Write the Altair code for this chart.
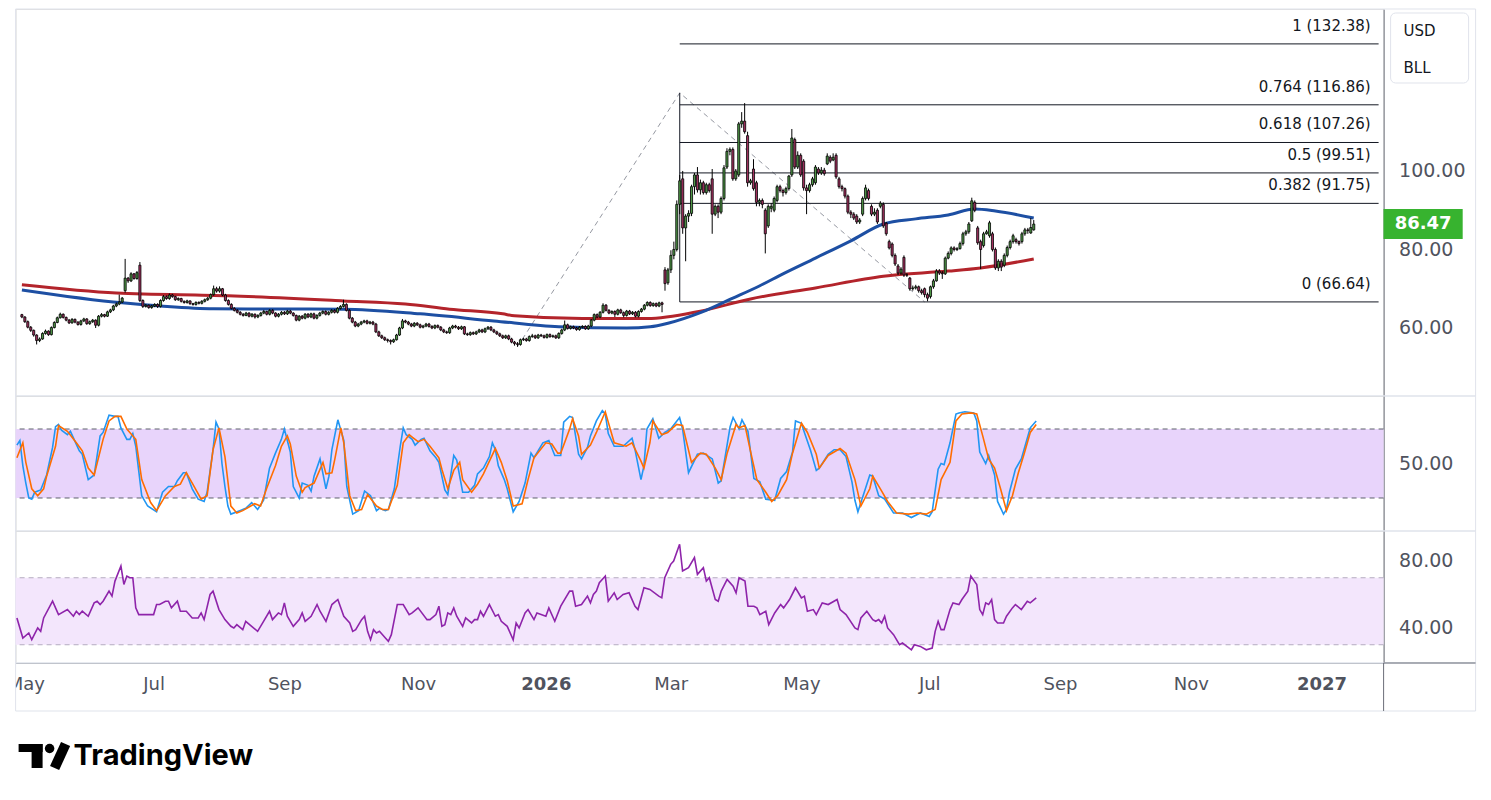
import json
import altair as alt
import pandas as pd
import numpy as np

# ---------------- data ----------------
START_DATE = "2025-04-28"   # first daily bar (bar index 0)

OPEN = [
    63.4, 62.8, 61.6, 60.2, 59.4, 58.2, 56.8, 57.2, 58.6, 59.2,
    58.3, 60.1, 61.4, 62.6, 63.5, 62.7, 62.0, 61.3, 62.2, 61.5,
    60.9, 61.8, 62.3, 61.1, 61.6, 62.0, 60.7, 63.0, 63.4, 63.0,
    64.1, 64.6, 65.6, 66.1, 66.6, 69.5, 72.7, 72.0, 73.8, 72.6,
    76.0, 67.0, 65.5, 65.8, 65.2, 65.6, 66.0, 65.5, 67.0, 68.0,
    67.5, 68.4, 68.0, 67.2, 67.5, 66.8, 66.5, 66.9, 66.2, 66.0,
    66.5, 66.3, 66.8, 67.2, 67.6, 68.5, 70.0, 69.4, 70.0, 68.4,
    67.0, 66.0, 65.0, 64.5, 64.0, 63.5, 63.2, 63.8, 63.0, 63.5,
    62.8, 63.2, 63.8, 64.2, 63.5, 64.5, 63.8, 63.0, 63.5, 64.0,
    63.6, 64.3, 63.8, 63.2, 62.0, 63.0, 62.5, 63.5, 62.8, 63.6,
    62.5, 63.2, 63.8, 64.2, 63.5, 64.0, 64.5, 64.0, 65.0, 65.5,
    66.0, 64.5, 62.5, 61.5, 60.5, 61.0, 61.5, 61.8, 61.2, 61.5,
    61.0, 59.0, 58.0, 57.5, 57.0, 56.8, 56.5, 57.0, 58.2, 60.0,
    61.8, 61.5, 61.0, 60.5, 61.2, 60.8, 60.2, 60.5, 61.0, 60.4,
    60.0, 60.6, 60.2, 59.5, 59.0, 58.8, 60.0, 60.5, 60.2, 59.8,
    60.3, 58.5, 58.3, 58.8, 58.5, 59.0, 59.5, 59.0, 59.8, 60.2,
    59.5, 59.0, 58.5, 58.0, 57.5, 58.0, 57.2, 56.4, 56.0, 55.8,
    57.0, 57.2, 56.8, 57.8, 58.0, 57.5, 58.2, 58.0, 57.6, 58.3,
    57.8, 58.0, 57.5, 58.6, 59.5, 60.8, 59.9, 60.3, 60.0, 59.6,
    60.2, 60.4, 59.8, 60.5, 62.0, 63.4, 62.8, 64.0, 65.8, 64.5,
    63.8, 64.2, 63.5, 64.6, 63.9, 63.2, 64.3, 63.6, 64.0, 63.0,
    64.2, 64.8, 65.8, 66.5, 65.7, 66.2, 65.6, 66.4, 74.8, 71.5,
    74.8, 78.5, 80.0, 91.5, 98.0, 85.5, 88.5, 89.2, 96.0, 99.0,
    95.2, 97.0, 94.5, 96.5, 98.0, 89.0, 91.0, 89.5, 93.0, 101.0,
    105.0, 105.5, 98.0, 99.0, 112.0, 112.7, 109.0, 97.0, 100.5, 97.0,
    92.0, 92.5, 90.0, 86.0, 90.5, 90.0, 92.5, 96.0, 95.0, 94.5,
    95.5, 99.0, 108.0, 101.0, 104.0, 102.5, 95.7, 95.0, 96.5, 97.0,
    100.5, 99.5, 100.2, 101.8, 103.5, 102.8, 104.0, 98.0, 96.0, 95.5,
    93.6, 89.5, 89.0, 88.5, 87.0, 89.0, 93.0, 95.0, 91.0, 89.0,
    90.0, 91.0, 91.5, 86.7, 82.0, 81.4, 78.5, 75.8, 74.0, 78.0,
    73.5, 72.7, 70.0, 70.2, 70.5, 69.5, 70.0, 68.5, 68.0, 70.5,
    72.0, 74.5, 74.0, 73.8, 77.8, 79.0, 80.4, 80.0, 80.2, 81.5,
    84.0, 84.5, 87.3, 92.0, 85.5, 82.0, 81.0, 84.0, 83.5, 84.0,
    80.0, 75.3, 77.0, 76.0, 78.5, 80.5, 82.0, 82.5, 82.0, 82.0,
    84.0, 85.0, 84.2, 85.0,
]
HIGH = [
    63.6, 63.0, 61.9, 60.5, 59.6, 58.4, 57.6, 58.9, 59.6, 59.4,
    60.4, 61.7, 62.9, 63.9, 63.7, 62.9, 62.3, 62.5, 62.4, 61.7,
    62.1, 62.6, 62.5, 61.9, 62.3, 62.2, 63.3, 63.8, 63.6, 64.4,
    64.9, 65.9, 66.5, 68.5, 67.9, 77.6, 73.0, 74.2, 74.0, 74.5,
    76.8, 67.3, 66.1, 66.0, 65.9, 66.3, 66.3, 67.3, 68.4, 68.3,
    68.8, 68.7, 68.2, 67.8, 67.7, 67.0, 67.2, 67.0, 66.4, 66.8,
    66.8, 67.1, 67.5, 67.9, 68.8, 70.8, 70.5, 70.6, 70.2, 68.7,
    67.3, 66.3, 65.3, 64.8, 64.3, 63.8, 64.1, 64.0, 63.8, 63.7,
    63.5, 64.1, 64.6, 64.4, 64.8, 64.8, 64.0, 63.8, 64.3, 64.3,
    64.6, 64.6, 64.0, 63.4, 63.3, 63.3, 63.8, 63.8, 63.9, 63.9,
    63.5, 64.1, 64.5, 64.5, 64.3, 64.8, 64.8, 65.3, 65.8, 67.2,
    66.3, 64.8, 62.8, 61.8, 61.3, 61.8, 62.1, 62.1, 61.8, 61.8,
    61.3, 59.3, 58.3, 57.8, 57.3, 57.1, 57.3, 58.5, 60.3, 62.3,
    62.1, 61.8, 61.3, 61.5, 61.5, 61.1, 60.8, 61.3, 61.3, 60.7,
    60.9, 60.9, 60.5, 59.8, 59.3, 60.3, 60.8, 60.8, 60.5, 60.6,
    60.5, 58.8, 59.1, 59.1, 59.3, 59.8, 59.8, 60.1, 60.5, 60.5,
    59.8, 59.3, 58.8, 58.3, 58.3, 58.3, 57.5, 56.7, 56.4, 57.3,
    57.5, 57.5, 58.1, 58.5, 58.3, 58.5, 58.5, 58.3, 58.6, 58.6,
    58.3, 58.3, 58.9, 59.8, 61.9, 61.1, 60.6, 60.6, 60.3, 60.5,
    60.7, 60.7, 60.8, 62.3, 63.7, 63.7, 64.3, 66.3, 66.1, 64.8,
    64.5, 64.5, 64.9, 64.9, 64.2, 64.6, 64.6, 64.3, 64.3, 64.5,
    65.1, 66.1, 66.8, 66.8, 66.5, 66.5, 66.7, 66.7, 75.5, 75.3,
    79.8, 82.0, 92.5, 99.0, 100.0, 89.0, 90.0, 96.5, 99.5, 101.0,
    97.8, 97.5, 97.0, 97.0, 100.5, 91.5, 91.5, 93.5, 101.5, 105.8,
    106.0, 106.0, 100.5, 112.5, 115.0, 117.3, 110.0, 98.0, 103.0, 97.5,
    93.0, 93.0, 90.5, 91.5, 91.8, 93.5, 96.5, 96.5, 95.5, 96.0,
    99.0, 110.7, 108.5, 105.0, 104.5, 103.0, 96.5, 97.0, 98.5, 101.5,
    101.0, 101.0, 100.8, 104.5, 104.0, 104.5, 104.5, 98.5, 96.5, 95.8,
    94.0, 90.0, 89.5, 89.0, 88.0, 93.5, 96.5, 95.5, 91.5, 90.5,
    90.5, 92.3, 92.0, 87.0, 82.5, 81.8, 79.0, 76.3, 75.5, 78.5,
    74.0, 73.0, 70.8, 71.0, 70.8, 70.0, 70.3, 69.0, 70.8, 72.5,
    75.0, 75.0, 74.5, 78.2, 79.5, 80.8, 80.8, 80.6, 82.0, 84.5,
    85.0, 87.0, 93.2, 92.5, 86.0, 82.5, 84.5, 85.0, 87.3, 84.5,
    80.5, 77.5, 77.5, 79.0, 81.0, 82.5, 84.0, 83.0, 82.3, 84.5,
    85.5, 85.5, 88.0, 87.5,
]
LOW = [
    62.5, 61.3, 59.9, 59.0, 57.8, 55.8, 56.4, 57.0, 58.3, 58.0,
    58.1, 59.9, 61.2, 62.4, 62.4, 61.7, 61.0, 61.1, 61.2, 60.6,
    60.6, 61.5, 60.8, 60.8, 61.3, 60.0, 60.4, 62.7, 62.7, 62.8,
    63.8, 64.3, 65.3, 65.8, 66.3, 69.0, 71.5, 71.7, 72.3, 72.3,
    66.6, 65.1, 65.2, 64.9, 64.9, 65.3, 65.1, 65.2, 66.7, 67.2,
    67.2, 67.7, 66.9, 66.9, 66.5, 66.2, 66.2, 65.9, 65.7, 65.7,
    66.0, 66.0, 66.5, 66.9, 67.3, 68.2, 69.0, 69.0, 68.1, 66.7,
    65.7, 64.7, 64.2, 63.7, 63.2, 62.9, 63.0, 62.7, 62.7, 62.4,
    62.5, 62.9, 63.5, 63.2, 63.2, 63.5, 62.7, 62.7, 63.2, 63.3,
    63.3, 63.5, 62.9, 61.7, 61.7, 62.2, 62.2, 62.5, 62.5, 62.2,
    62.2, 62.9, 63.5, 63.2, 63.2, 63.7, 63.7, 63.7, 64.7, 65.2,
    64.2, 62.2, 61.2, 60.2, 60.2, 60.7, 61.2, 60.9, 60.9, 60.7,
    58.7, 57.7, 57.2, 56.7, 56.3, 55.8, 56.2, 56.8, 58.0, 59.7,
    61.2, 60.7, 60.2, 60.2, 60.5, 59.9, 59.9, 60.2, 60.1, 59.7,
    59.7, 59.9, 59.2, 58.7, 58.5, 58.5, 59.7, 59.9, 59.5, 59.5,
    58.2, 58.0, 58.0, 58.2, 58.2, 58.7, 58.7, 58.7, 59.5, 59.2,
    58.7, 58.2, 57.7, 57.2, 57.2, 56.9, 56.1, 55.5, 55.2, 55.5,
    56.7, 56.5, 56.5, 57.5, 57.2, 57.2, 57.7, 57.3, 57.3, 57.5,
    57.5, 57.2, 57.2, 58.3, 59.2, 59.6, 59.6, 59.7, 59.3, 59.3,
    59.9, 59.5, 59.5, 60.2, 61.7, 62.5, 62.5, 63.7, 64.2, 63.5,
    63.5, 62.8, 63.2, 63.6, 62.7, 62.9, 63.3, 63.3, 62.7, 62.7,
    63.9, 64.5, 65.5, 65.4, 65.4, 65.3, 65.3, 64.0, 69.5, 71.0,
    74.0, 77.5, 79.5, 89.0, 84.0, 77.0, 87.0, 88.5, 94.0, 94.5,
    94.0, 94.0, 94.0, 94.5, 84.0, 88.5, 88.0, 89.0, 92.5, 100.5,
    104.0, 97.5, 97.5, 98.5, 111.0, 109.5, 96.0, 96.5, 95.0, 91.0,
    91.0, 90.5, 79.0, 85.5, 89.5, 89.5, 92.0, 94.5, 93.5, 94.0,
    95.0, 98.5, 100.5, 100.5, 98.5, 95.0, 89.0, 94.5, 96.0, 96.5,
    99.0, 99.0, 98.8, 101.5, 102.0, 102.5, 98.0, 95.5, 94.8, 93.0,
    89.0, 88.0, 87.5, 86.5, 86.5, 88.5, 92.5, 92.5, 88.5, 88.5,
    86.5, 90.5, 85.5, 83.5, 80.0, 78.0, 75.8, 73.5, 73.5, 73.0,
    73.0, 69.5, 69.5, 69.8, 69.0, 68.5, 67.8, 66.8, 67.5, 70.0,
    71.8, 73.5, 72.5, 73.5, 77.5, 78.5, 79.5, 79.6, 80.0, 81.0,
    83.5, 84.0, 87.0, 89.5, 81.2, 75.0, 80.5, 83.8, 83.0, 79.5,
    74.8, 74.5, 74.5, 75.5, 78.0, 80.0, 81.5, 81.5, 81.0, 81.5,
    83.5, 84.0, 84.0, 84.8,
]
CLOSE = [
    62.8, 61.6, 60.2, 59.4, 58.2, 56.8, 57.2, 58.6, 59.2, 58.3,
    60.1, 61.4, 62.6, 63.5, 62.7, 62.0, 61.3, 62.2, 61.5, 60.9,
    61.8, 62.3, 61.1, 61.6, 62.0, 60.7, 63.0, 63.4, 63.0, 64.1,
    64.6, 65.6, 66.1, 66.6, 67.6, 72.7, 72.0, 73.8, 72.6, 74.1,
    67.0, 65.5, 65.8, 65.2, 65.6, 66.0, 65.5, 67.0, 68.0, 67.5,
    68.4, 68.0, 67.2, 67.5, 66.8, 66.5, 66.9, 66.2, 66.0, 66.5,
    66.3, 66.8, 67.2, 67.6, 68.5, 70.0, 69.4, 70.0, 68.4, 67.0,
    66.0, 65.0, 64.5, 64.0, 63.5, 63.2, 63.8, 63.0, 63.5, 62.8,
    63.2, 63.8, 64.2, 63.5, 64.5, 63.8, 63.0, 63.5, 64.0, 63.6,
    64.3, 63.8, 63.2, 62.0, 63.0, 62.5, 63.5, 62.8, 63.6, 62.5,
    63.2, 63.8, 64.2, 63.5, 64.0, 64.5, 64.0, 65.0, 65.5, 66.0,
    64.5, 62.5, 61.5, 60.5, 61.0, 61.5, 61.8, 61.2, 61.5, 61.0,
    59.0, 58.0, 57.5, 57.0, 56.8, 56.5, 57.0, 58.2, 60.0, 61.8,
    61.5, 61.0, 60.5, 61.2, 60.8, 60.2, 60.5, 61.0, 60.4, 60.0,
    60.6, 60.2, 59.5, 59.0, 58.8, 60.0, 60.5, 60.2, 59.8, 60.3,
    58.5, 58.3, 58.8, 58.5, 59.0, 59.5, 59.0, 59.8, 60.2, 59.5,
    59.0, 58.5, 58.0, 57.5, 58.0, 57.2, 56.4, 56.0, 55.8, 57.0,
    57.2, 56.8, 57.8, 58.0, 57.5, 58.2, 58.0, 57.6, 58.3, 57.8,
    58.0, 57.5, 58.6, 59.5, 60.8, 59.9, 60.3, 60.0, 59.6, 60.2,
    60.4, 59.8, 60.5, 62.0, 63.4, 62.8, 64.0, 65.8, 64.5, 63.8,
    64.2, 63.5, 64.6, 63.9, 63.2, 64.3, 63.6, 64.0, 63.0, 64.2,
    64.8, 65.8, 66.5, 65.7, 66.2, 65.6, 66.4, 66.0, 71.3, 74.8,
    78.5, 80.0, 91.5, 97.5, 85.5, 88.5, 89.2, 96.0, 99.0, 95.2,
    97.0, 94.5, 96.5, 95.0, 89.0, 91.0, 89.5, 93.0, 100.8, 105.0,
    105.5, 98.0, 100.0, 112.0, 112.7, 110.0, 97.0, 97.5, 95.5, 92.0,
    92.5, 91.5, 84.0, 91.0, 91.0, 93.0, 96.0, 95.0, 94.5, 95.5,
    98.7, 108.4, 101.0, 104.0, 99.0, 95.7, 95.0, 96.5, 98.0, 101.0,
    99.5, 100.2, 99.3, 103.8, 102.5, 103.5, 98.5, 96.0, 95.5, 93.6,
    89.5, 89.0, 88.0, 87.0, 87.5, 93.0, 95.7, 93.0, 89.0, 89.5,
    87.0, 91.8, 86.0, 84.0, 80.4, 78.5, 76.3, 74.0, 75.0, 73.5,
    73.5, 70.0, 70.2, 70.5, 69.5, 69.0, 68.5, 67.6, 70.5, 72.0,
    74.5, 74.0, 73.8, 77.8, 79.0, 80.4, 80.0, 80.2, 81.5, 84.0,
    84.5, 86.5, 92.4, 90.0, 81.7, 80.0, 84.0, 84.5, 86.8, 80.0,
    75.3, 77.0, 75.5, 78.5, 80.5, 82.0, 83.5, 82.0, 81.5, 84.0,
    85.0, 84.8, 85.6, 86.47,
]

# moving averages (bar, value)
MA_FAST = [(0, 69.7), (34, 66.4), (47, 65.6), (65, 64.9), (109, 64.8), (135, 63.6),
           (160, 61.8), (182, 60.3), (205, 60.0), (213, 60.3), (219, 61.2), (230, 63.9),
           (241, 67.6), (250, 70.7), (258, 73.8), (269, 77.8), (281, 82.2), (292, 86.5),
           (303, 87.8), (314, 88.8), (323, 90.3), (330, 89.8), (343, 88.0)]
MA_SLOW = [(0, 71.0), (32, 68.9), (70, 68.2), (109, 66.9), (130, 66.1), (145, 64.8),
           (163, 63.6), (167, 63.1), (190, 62.4), (212, 62.4), (230, 64.3), (247, 67.4),
           (269, 70.2), (292, 73.2), (314, 74.5), (325, 75.3), (343, 77.6)]

# stochastic %K and %D (bar, value)
STOCH_K = [(0,66),(1,70),(2,48),(3,33),(4,20),(5,19),(6,25),(8,27),(10,40),(12,64),(13,82),(14,84),(15,79),(17,75),(18,78),(21,61),(22,58),(24,36),(26,40),(28,74),(29,77),(31,92),(33,91),(34,91),(35,81),(37,71),(38,71),(39,76),(40,65),(42,22),(44,13),(47,8),(49,25),(51,30),(53,30),(54,35),(56,42),(57,42),(59,28),(61,19),(63,17),(64,25),(66,62),(67,86),(68,80),(69,50),(70,30),(71,13),(72,6),(75,9),(77,11),(79,16),(81,10),(83,18),(85,46),(87,59),(89,71),(90,80),(92,60),(93,30),(95,20),(96,33),(98,31),(99,26),(100,39),(102,54),(104,28),(105,39),(106,62),(108,88),(110,70),(111,30),(112,18),(113,6),(115,9),(117,26),(119,22),(121,9),(122,11),(124,9),(125,10),(127,28),(129,65),(130,81),(131,75),(133,71),(134,66),(136,71),(137,72),(139,61),(141,55),(142,51),(144,27),(145,23),(147,57),(148,53),(150,25),(152,25),(154,31),(155,41),(157,46),(159,56),(160,68),(161,62),(162,48),(164,36),(165,28),(167,8),(169,17),(171,33),(173,59),(174,55),(177,68),(179,70),(181,57),(183,57),(184,86),(186,91),(187,90),(189,58),(190,54),(192,64),(193,74),(195,87),(197,96),(198,93),(199,76),(201,65),(204,65),(207,72),(208,62),(210,36),(211,48),(212,80),(214,89),(216,72),(218,77),(220,80),(223,90),(224,80),(226,42),(229,58),(231,59),(234,54),(236,33),(237,35),(240,82),(241,90),(243,80),(244,88),(246,78),(248,37),(250,34),(252,19),(255,18),(257,37),(259,43),(261,60),(262,87),(264,85),(265,77),(267,62),(269,44),(270,46),(273,58),(275,62),(277,62),(279,56),(281,34),(282,18),(283,8),(285,24),(287,40),(288,39),(290,22),(292,19),(295,7),(298,7),(301,3),(304,7),(307,4),(308,8),(310,45),(311,50),(312,49),(314,68),(316,93),(317,94),(319,95),(322,94),(323,87),(324,60),(326,50),(327,57),(329,40),(330,17),(332,6),(333,10),(334,25),(336,45),(338,54),(341,81),(343,87)]
STOCH_D = [(0,55),(2,68),(3,51),(5,28),(7,22),(9,28),(10,39),(13,65),(14,83),(17,78),(20,68),(22,61),(24,46),(26,40),(29,71),(31,87),(33,91),(35,91),(37,80),(38,77),(40,71),(42,36),(45,16),(47,9),(50,22),(53,30),(55,32),(57,42),(59,33),(62,19),(64,22),(66,62),(68,81),(70,56),(72,13),(74,7),(76,9),(80,15),(82,13),(84,28),(87,48),(89,65),(91,74),(92,67),(94,39),(96,25),(97,29),(100,33),(103,51),(104,41),(106,42),(107,54),(109,81),(110,68),(112,22),(114,9),(116,10),(118,23),(121,13),(123,10),(125,10),(128,31),(130,68),(132,75),(133,73),(135,69),(137,71),(139,65),(142,55),(143,45),(145,28),(147,44),(149,51),(150,36),(153,25),(155,32),(157,41),(159,52),(161,63),(163,51),(165,35),(167,13),(170,15),(172,36),(174,55),(178,68),(180,67),(182,59),(183,59),(186,80),(187,89),(189,74),(190,58),(193,66),(195,77),(198,95),(199,86),(201,68),(205,65),(207,68),(210,52),(211,46),(213,68),(214,87),(217,75),(219,77),(222,84),(224,83),(227,51),(230,59),(232,58),(235,46),(237,36),(239,59),(242,84),(243,81),(245,83),(247,59),(249,36),(252,25),(254,17),(256,22),(259,36),(261,59),(264,85),(266,77),(269,58),(270,46),(273,57),(277,63),(279,59),(282,36),(284,13),(287,28),(288,39),(291,26),(293,17),(296,7),(300,6),(303,7),(306,6),(309,10),(311,36),(314,51),(316,87),(318,93),(321,94),(323,93),(325,74),(327,54),(329,46),(331,28),(333,9),(335,22),(337,42),(339,59),(341,77),(343,84)]

# RSI (bar, value)
RSI = [(0,46),(2,34),(4,37),(5,33),(7,40),(8,38),(9,46),(12,56),(14,48),(17,51),(19,47),(20,50),(21,48),(22,50),(24,47),(26,55),(27,56),(28,54),(29,56),(31,62),(32,59),(33,68),(35,77),(36,66),(37,71),(38,70),(39,70),(40,52),(41,48),(43,48),(46,48),(47,54),(48,54),(50,56),(51,56),(52,52),(54,56),(55,50),(57,50),(59,46),(61,46),(62,49),(63,45),(65,60),(66,62),(68,51),(70,45),(72,41),(73,40),(74,42),(76,39),(77,44),(79,41),(81,38),(83,44),(85,50),(86,45),(88,49),(89,48),(90,55),(91,47),(93,41),(95,45),(96,49),(97,44),(99,47),(101,54),(102,50),(104,44),(106,54),(108,57),(110,47),(112,43),(113,38),(114,39),(116,45),(117,47),(118,38),(119,33),(120,39),(121,37),(122,38),(124,34),(125,32),(126,36),(128,54),(130,54),(132,48),(133,49),(135,52),(138,45),(139,45),(141,48),(142,53),(143,41),(144,42),(145,49),(146,48),(147,52),(148,47),(150,41),(151,46),(153,43),(154,45),(155,45),(156,50),(157,47),(159,54),(161,47),(162,48),(163,44),(165,41),(167,33),(168,43),(169,40),(171,49),(172,51),(174,45),(175,49),(178,47),(179,52),(181,44),(183,53),(186,62),(187,62),(188,53),(190,54),(192,59),(193,55),(194,60),(195,62),(196,67),(198,71),(199,56),(201,61),(202,57),(204,60),(206,61),(208,53),(209,51),(211,64),(213,63),(216,59),(217,58),(218,70),(220,78),(221,80),(223,90),(224,74),(226,76),(228,82),(229,72),(231,76),(232,68),(233,70),(235,57),(236,56),(237,62),(239,69),(241,65),(242,61),(243,70),(245,68),(246,53),(248,53),(249,52),(250,48),(252,50),(253,42),(255,49),(257,54),(258,52),(260,57),(262,64),(264,58),(265,59),(266,50),(268,51),(269,48),(271,55),(273,54),(276,57),(277,51),(279,48),(282,40),(283,39),(284,46),(286,50),(288,45),(289,44),(290,45),(291,43),(292,47),(293,40),(295,36),(297,30),(298,31),(301,27),(302,30),(304,29),(306,27),(308,28),(309,38),(310,44),(311,39),(312,39),(314,51),(315,55),(317,54),(318,57),(320,62),(321,71),(323,66),(324,51),(325,48),(326,55),(327,54),(328,57),(329,45),(330,43),(332,43),(333,47),(335,52),(336,54),(338,51),(340,56),(341,55),(343,58)]

# Fibonacci retracement
FIB_RATIO = [1, 0.764, 0.618, 0.5, 0.382, 0]
FIB_PRICE = [132.38, 116.86, 107.26, 99.51, 91.75, 66.64]
FIB_START_BAR = 223
TREND_BAR = [168, 223, 306]
TREND_PRICE = [55.2, 119.9, 66.64]
LAST_PRICE = 86.47

STOCH_BANDS = [20, 80]
RSI_BANDS = [30, 70]

MONTH_STARTS = ["2025-05-01", "2025-07-01", "2025-09-01", "2025-11-01", "2026-01-01",
                "2026-03-01", "2026-05-01", "2026-07-01", "2026-09-01", "2026-11-01", "2027-01-01"]
MONTH_LABELS = ["May", "Jul", "Sep", "Nov", "2026", "Mar", "May", "Jul", "Sep", "Nov", "2027"]

# ---------------- layout / style ----------------
W, AXIS_W = 1368, 92
H1, H2, H3, XAX_H = 387, 135, 132, 48
X_MIN, X_MAX = -0.44, 459.9
FONT = "DejaVu Sans"
FRAME = "#e0e3eb"
AXIS_LINE = "#6a6d78"
LABEL = "#50535e"
UP, DOWN = "#4e9646", "#a3305f"
BLUE_MA, RED_MA = "#1d4fa3", "#b3242b"
K_COL, D_COL = "#2196f3", "#ff6d00"
RSI_COL = "#8e24aa"

n = min(len(OPEN), len(HIGH), len(LOW), len(CLOSE))
candles = pd.DataFrame({"bar": np.arange(n), "open": OPEN[:n], "high": HIGH[:n],
                        "low": LOW[:n], "close": CLOSE[:n]})
candles["dir"] = np.where(candles["close"] >= candles["open"], "up", "down")

tick_bars = [int(np.busday_count(START_DATE, d)) for d in MONTH_STARTS]
year_bars = [b for b, l in zip(tick_bars, MONTH_LABELS) if l.isdigit()]

xs = alt.Scale(domain=[X_MIN, X_MAX], nice=False, zero=False)

label_expr = f"{json.dumps(MONTH_LABELS)}[indexof({json.dumps(tick_bars)}, datum.value)]"
XAXIS = alt.Axis(orient="bottom", values=tick_bars, labelExpr=label_expr, ticks=False, grid=False,
                 domain=True, domainColor=AXIS_LINE, domainWidth=1, labelFontSize=18,
                 labelColor=LABEL, labelFont=FONT, labelPadding=13, labelFlush=False,
                 labelOverlap=False, title=None,
                 labelFontWeight={"condition": {"test": f"indexof({json.dumps(year_bars)}, datum.value) >= 0",
                                                "value": "bold"}, "value": "normal"})


def right_axis(values):
    return alt.Axis(orient="right", values=values, format=".2f", ticks=False, grid=False,
                    domain=True, domainColor=AXIS_LINE, domainWidth=1, labelFontSize=19,
                    labelColor=LABEL, labelFont=FONT, labelPadding=15, title=None)


def make_x(axis):
    def X(field="bar"):
        return alt.X(f"{field}:Q", scale=xs, axis=axis, title=None)
    return X


def make_y(scale, axis):
    def Y(field):
        return alt.Y(f"{field}:Q", scale=scale, axis=axis, title=None)
    return Y


one = pd.DataFrame({"k": [0]})


def frame(h, y0=0):
    return alt.Chart(one).mark_rect(fillOpacity=0, stroke=FRAME, strokeWidth=1).encode(
        x=alt.value(0), x2=alt.value(W + AXIS_W), y=alt.value(y0), y2=alt.value(y0 + h))


# ---------------- main price panel ----------------
X1 = make_x(None)
Y1 = make_y(alt.Scale(domain=[42.67, 141.27], nice=False, zero=False), right_axis([60, 80, 100]))

fib = pd.DataFrame({"price": FIB_PRICE,
                    "label": [f"{r:g} ({p:.2f})" for r, p in zip(FIB_RATIO, FIB_PRICE)]})
fib["start"] = FIB_START_BAR
fib["end"] = X_MAX
trend = pd.DataFrame({"bar": TREND_BAR, "price": TREND_PRICE})
fib_vert = pd.DataFrame({"bar": [FIB_START_BAR], "lo": [min(FIB_PRICE)], "hi": [TREND_PRICE[1]]})
ma_fast = pd.DataFrame(MA_FAST, columns=["bar", "value"])
ma_slow = pd.DataFrame(MA_SLOW, columns=["bar", "value"])
last = pd.DataFrame({"price": [LAST_PRICE], "label": [f"{LAST_PRICE:.2f}"]})

fib_rules = alt.Chart(fib).mark_rule(color="#131722", strokeWidth=1).encode(
    x=X1("start"), x2="end:Q", y=Y1("price"))
fib_text = alt.Chart(fib).mark_text(align="right", baseline="middle", dy=-18, fontSize=15,
                                    font=FONT, color="#131722").encode(
    x=alt.value(W - 13), y=Y1("price"), text="label:N")
fib_v = alt.Chart(fib_vert).mark_rule(color="#131722", strokeWidth=1).encode(
    x=X1(), y=Y1("lo"), y2="hi:Q")
trend_line = alt.Chart(trend).mark_line(color="#9598a1", strokeWidth=1, strokeDash=[5, 4]).encode(
    x=X1(), y=Y1("price"))
slow_line = alt.Chart(ma_slow).mark_line(color=RED_MA, strokeWidth=3, interpolate="monotone").encode(
    x=X1(), y=Y1("value"))
fast_line = alt.Chart(ma_fast).mark_line(color=BLUE_MA, strokeWidth=3, interpolate="monotone").encode(
    x=X1(), y=Y1("value"))
wicks = alt.Chart(candles).mark_rule(color="#000000", strokeWidth=1).encode(
    x=X1(), y=Y1("low"), y2="high:Q")
bodies = alt.Chart(candles).mark_bar(width=2.1, stroke="#000000", strokeWidth=0.8).encode(
    x=X1(), y=Y1("open"), y2="close:Q",
    color=alt.Color("dir:N", scale=alt.Scale(domain=["up", "down"], range=[UP, DOWN]), legend=None))
price_box = alt.Chart(last).mark_point(shape="M-1.32,-0.5H1.32V0.5H-1.32Z", size=3600, filled=True,
                                       fill="#37b32f", opacity=1, strokeWidth=0).encode(
    x=alt.value(W + 39.5), y=Y1("price"))
price_txt = alt.Chart(last).mark_text(color="white", fontWeight="bold", fontSize=18, font=FONT,
                                      align="center", baseline="middle").encode(
    x=alt.value(W + 39.5), y=Y1("price"), text="label:N")
cur_box = alt.Chart(one).mark_rect(fill="white", stroke=FRAME, strokeWidth=1, cornerRadius=5).encode(
    x=alt.value(W + 7), x2=alt.value(W + 85), y=alt.value(4), y2=alt.value(74))
usd = alt.Chart(pd.DataFrame({"t": ["USD"]})).mark_text(align="left", baseline="middle", fontSize=15,
                                                       font=FONT, color="#131722").encode(
    x=alt.value(W + 20), y=alt.value(22), text="t:N")
bll = alt.Chart(pd.DataFrame({"t": ["BLL"]})).mark_text(align="left", baseline="middle", fontSize=15,
                                                       font=FONT, color="#131722").encode(
    x=alt.value(W + 20), y=alt.value(59), text="t:N")

main = alt.layer(frame(H1), trend_line, fib_rules, fib_v, fib_text, slow_line, fast_line,
                 wicks, bodies, price_box, price_txt, cur_box, usd, bll).properties(width=W, height=H1)

# ---------------- stochastic panel ----------------
Y2 = make_y(alt.Scale(domain=[-8.7, 108.7], nice=False, zero=False), right_axis([50]))
sband = pd.DataFrame({"lo": [STOCH_BANDS[0]], "hi": [STOCH_BANDS[1]], "x0": [X_MIN], "x1": [X_MAX]})
slevels = pd.DataFrame({"level": STOCH_BANDS})
k_df = pd.DataFrame(STOCH_K, columns=["bar", "value"])
d_df = pd.DataFrame(STOCH_D, columns=["bar", "value"])

stoch = alt.layer(
    frame(H2),
    alt.Chart(sband).mark_rect(color="#e8d4fb").encode(x=X1("x0"), x2="x1:Q", y=Y2("lo"), y2="hi:Q"),
    alt.Chart(slevels).mark_rule(color="#5d606b", strokeWidth=1, strokeDash=[5, 4]).encode(y=Y2("level")),
    alt.Chart(k_df).mark_line(color=K_COL, strokeWidth=1.6).encode(x=X1(), y=Y2("value")),
    alt.Chart(d_df).mark_line(color=D_COL, strokeWidth=1.6).encode(x=X1(), y=Y2("value")),
).properties(width=W, height=H2)

# ---------------- RSI panel ----------------
X3 = make_x(XAXIS)
Y3 = make_y(alt.Scale(domain=[19.1, 97.9], nice=False, zero=False), right_axis([40, 80]))
rband = pd.DataFrame({"lo": [RSI_BANDS[0]], "hi": [RSI_BANDS[1]], "x0": [X_MIN], "x1": [X_MAX]})
rlevels = pd.DataFrame({"level": RSI_BANDS})
rsi_df = pd.DataFrame(RSI, columns=["bar", "value"])

logo_text = alt.Chart(pd.DataFrame({"t": ["TradingView"]})).mark_text(
    align="left", baseline="middle", font="Inter", fontWeight="bold", fontSize=29, color="#000000").encode(
    x=alt.value(58), y=alt.value(225), text="t:N")
logo_bar = alt.Chart(one).mark_rect(color="#000000").encode(
    x=alt.value(3), x2=alt.value(27), y=alt.value(213), y2=alt.value(221))
logo_stem = alt.Chart(one).mark_rect(color="#000000").encode(
    x=alt.value(16), x2=alt.value(27), y=alt.value(213), y2=alt.value(237))
logo_dot = alt.Chart(one).mark_point(filled=True, color="#000000", size=90, opacity=1).encode(
    x=alt.value(34), y=alt.value(217.5))
logo_slash = alt.Chart(one).mark_rule(color="#000000", strokeWidth=10, strokeCap="butt").encode(
    x=alt.value(50), x2=alt.value(39), y=alt.value(213), y2=alt.value(237))
# white mask so the first month label is cut at the chart's left edge, as in the reference
label_mask = alt.Chart(one).mark_rect(color="white").encode(
    x=alt.value(-8), x2=alt.value(-0.5), y=alt.value(H3 + 1), y2=alt.value(H3 + XAX_H))

rsi = alt.layer(
    label_mask,
    frame(H3),
    frame(XAX_H, H3),
    alt.Chart(rband).mark_rect(color="#f3e6fc").encode(x=X3("x0"), x2="x1:Q", y=Y3("lo"), y2="hi:Q"),
    alt.Chart(rlevels).mark_rule(color="#b4acc0", strokeWidth=1, strokeDash=[5, 4]).encode(y=Y3("level")),
    alt.Chart(rsi_df).mark_line(color=RSI_COL, strokeWidth=1.6).encode(x=X3(), y=Y3("value")),
    alt.Chart(one).mark_rule(color=AXIS_LINE, strokeWidth=1).encode(
        x=alt.value(W), y=alt.value(H3), y2=alt.value(H3 + XAX_H)),
    alt.Chart(one).mark_rule(color=AXIS_LINE, strokeWidth=1).encode(
        x=alt.value(W), x2=alt.value(W + AXIS_W), y=alt.value(H3)),
    logo_text, logo_bar, logo_stem, logo_dot, logo_slash,
).properties(width=W, height=H3)

chart = alt.vconcat(main, stoch, rsi, spacing=0, bounds="flush").properties(
    padding={"left": -1.4, "top": 0, "right": 0, "bottom": 0}
).configure_view(stroke=None).configure(background="white")

chart.save("out.html", embed_options={"renderer": "svg", "actions": False})
